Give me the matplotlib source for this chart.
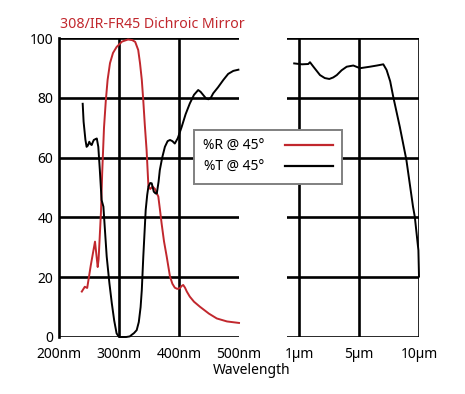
import matplotlib
matplotlib.use("Agg")
import matplotlib.pyplot as plt

plt.rcParams["font.family"] = ["Noto Sans", "DejaVu Sans"]

RED = "#c1272d"

# UV/visible part (nm)
r_nm = [238, 243, 247, 253, 260, 264.5, 266, 268, 270, 272, 275, 278, 281, 285, 290,
        296, 305, 315, 322, 327, 332, 335, 338, 340.5, 343, 346, 349, 352, 356, 360,
        363, 365.5, 368, 371, 375, 379.5, 385, 389, 393, 397, 401.5, 404, 407, 410,
        413, 418, 425, 435, 450, 463, 480, 496, 500]
r_pct = [15.2, 16.8, 16.4, 24, 31.9, 23.4, 26, 34, 42, 55, 70, 79, 86, 91.6, 95,
         97, 98.8, 99.5, 99.3, 98.7, 96, 91.6, 86, 79, 71, 62.5, 50.5, 49.5, 50.3, 49.5,
         48, 47, 43, 38, 32, 26.9, 20.2, 17.8, 16.5, 16.1, 16.3, 17, 17.4, 16.5,
         15.2, 13.5, 11.8, 10.1, 7.8, 6.2, 5.2, 4.8, 4.7]

t_nm = [239.5, 241, 244, 246, 248, 250.5, 252.5, 254.5, 256, 258, 261, 263, 265.5, 268,
        271, 274, 279.5, 284, 288, 292, 296, 300, 305, 312, 318, 321, 325, 329.5, 333,
        336, 338, 340.5, 344.5, 347, 349, 352, 354.5, 358, 361, 363, 366, 368, 372,
        376.5, 381, 385, 389, 393, 398, 404.5, 411, 418, 425, 432, 436, 440.5, 445,
        449, 453, 457, 465, 474, 482, 490.5, 499]
t_pct = [78, 72, 66, 63.6, 64, 65.3, 64.5, 64.2, 65, 65.9, 66.2, 66.4, 63.6, 56,
         45.8, 43.6, 26.9, 18, 11.3, 5.5, 1.2, 0, 0, 0, 0.2, 0.7, 1.3, 2.3, 5,
         10, 15.7, 26.9, 42.5, 47.5, 50.3, 51.5, 51.4, 48.6, 48, 48, 52, 55.8, 60,
         63.6, 65.5, 65.9, 65.5, 64.7, 66.5, 70.3, 74.5, 78.1, 81, 82.6, 82, 80.9, 79.8,
         79.5, 80, 81.5, 83.5, 86, 88, 89, 89.4]

# IR part, drawn on an evenly spaced 1um / 5um / 10um scale
ir_ticks = ["1µm", "5µm", "10µm"]
ir_pos = [-0.08, 0.05, 0.155, 0.183, 0.24, 0.35, 0.43, 0.505, 0.57, 0.63, 0.71, 0.795,
          0.905, 1.017, 1.183, 1.30, 1.405, 1.46, 1.52, 1.57, 1.68, 1.79, 1.9, 1.93,
          1.99, 2.0]
ir_pct = [91.5, 91.2, 91.3, 91.9, 90.4, 87.6, 86.6, 86.3, 86.8, 87.6, 89.2, 90.4,
          90.8, 89.9, 90.4, 90.8, 91.2, 89.3, 85.5, 80.4, 70.3, 59.2, 43.6, 40.2,
          29, 20.2]

nm_ticks = [200, 300, 400, 500]
pct_ticks = [0, 20, 40, 60, 80, 100]

W, H = 465, 394
fig = plt.figure(figsize=(W / 100, H / 100), dpi=100)
ax1 = fig.add_axes([59 / W, 1 - 337 / H, 180 / W, 299 / H])
ax2 = fig.add_axes([287 / W, 1 - 337 / H, 132 / W, 299 / H])

GRID_LW = 1.9
for ax in (ax1, ax2):
    ax.set_ylim(0, 100)
    ax.set_yticks(pct_ticks)
    for y in pct_ticks:
        ax.axhline(y, color="black", lw=GRID_LW, zorder=1)
    ax.tick_params(length=0, labelsize=10, pad=7)
    for s in ax.spines.values():
        s.set_visible(False)

ax1.set_xlim(200, 500)
ax1.set_xticks(nm_ticks, [f"{v}nm" for v in nm_ticks])
ax1.set_yticklabels([str(v) for v in pct_ticks])
ax1.tick_params(axis="y", pad=4)
ax1.spines["left"].set_visible(True)
ax1.spines["left"].set_linewidth(GRID_LW)
for x in nm_ticks[1:-1]:
    ax1.axvline(x, color="black", lw=GRID_LW, zorder=1)

ax2.set_xlim(-0.2, 2.0)
ax2.set_xticks(range(len(ir_ticks)), ir_ticks)
ax2.set_yticklabels([])
for i in range(len(ir_ticks)):
    ax2.axvline(i, color="black", lw=GRID_LW, zorder=1)

lr, = ax1.plot(r_nm, r_pct, color=RED, lw=1.4, zorder=3, clip_on=False)
lt, = ax1.plot(t_nm, t_pct, color="black", lw=1.4, zorder=3, clip_on=False)
ax2.plot(ir_pos, ir_pct, color="black", lw=1.4, zorder=3, clip_on=False)

fig.text(60 / W, 1 - 24 / H, "308/IR-FR45 Dichroic Mirror", color=RED,
         fontsize=10.2, ha="left", va="center")
fig.text(252 / W, 1 - 371 / H, "Wavelength", fontsize=10, ha="center", va="center")

leg = fig.legend([lr, lt], ["%R @ 45°", "%T @ 45°"], loc="upper left",
                 bbox_to_anchor=(194 / W, 1 - 130 / H), borderaxespad=0,
                 markerfirst=False, fancybox=False, framealpha=1,
                 edgecolor="#808080", fontsize=10, handlelength=3.45,
                 handletextpad=1.5, labelspacing=0.4, borderpad=0.65)
leg.get_frame().set_linewidth(1.4)
for h in leg.get_lines():
    h.set_linewidth(1.6)

fig.savefig("out.png", dpi=100)
